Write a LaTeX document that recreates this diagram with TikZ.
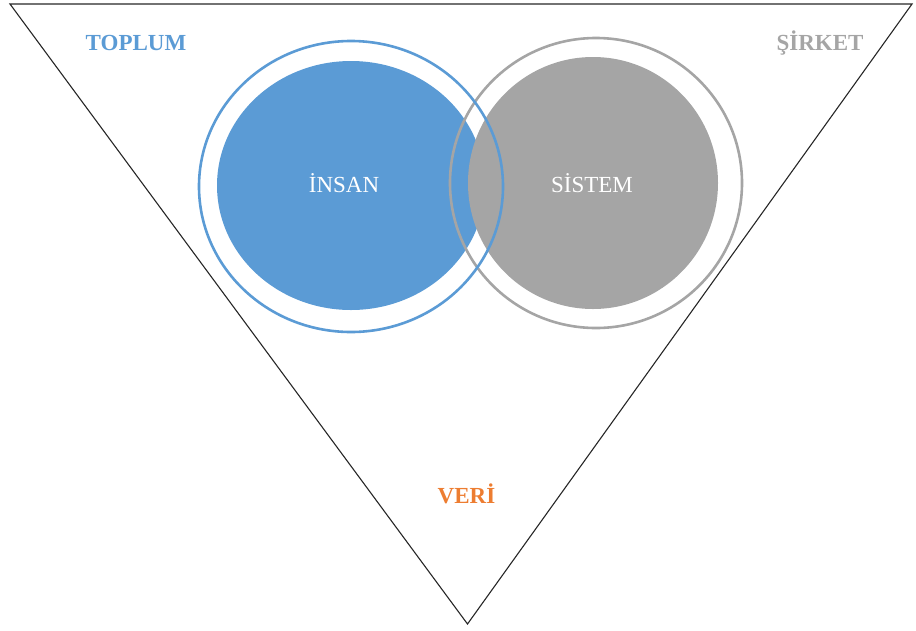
\documentclass[tikz,border=0pt]{standalone}
\usepackage{fontspec}
\setmainfont{Liberation Serif}
\definecolor{cblue}{HTML}{5B9BD5}
\definecolor{cgray}{HTML}{A5A5A5}
\definecolor{corange}{HTML}{ED7D31}
\begin{document}
\begin{tikzpicture}[x=1pt,y=-1pt,
  frame/.style={draw=black!85, line width=1.1pt, line join=miter},
  ring/.style={line width=2.6pt},
  corner/.style={font=\fontsize{23}{26}\selectfont\bfseries, inner sep=0pt},
  inner/.style={font=\fontsize{23}{26}\selectfont, text=white, inner sep=0pt}]
\useasboundingbox (0,0) rectangle (916,630);
% inverted triangle frame
\coordinate (tl) at (10,4);
\coordinate (tr) at (912,4);
\coordinate (bt) at (467.5,624);
\draw[frame] (tl) -- (tr) -- (bt) -- cycle;
% filled discs
\fill[cblue] (351,185.5) ellipse [x radius=134, y radius=124.5];
\fill[cgray] (593,183) ellipse [x radius=125, y radius=126];
% outer rings
\draw[ring, cgray] (596,183) ellipse [x radius=146, y radius=145];
\draw[ring, cblue] (351,186.5) ellipse [x radius=152, y radius=145.5];
% labels
\node[corner, text=cblue] (toplum) at (136,43) {TOPLUM};
\node[corner, text=cgray] (sirket) at (820,43) {ŞİRKET};
\node[corner, text=corange] (veri) at (466.5,494) {VERİ};
\node[inner] (insan) at (344,183) {İNSAN};
\node[inner] (sistem) at (592,183) {SİSTEM};
\end{tikzpicture}
\end{document}
